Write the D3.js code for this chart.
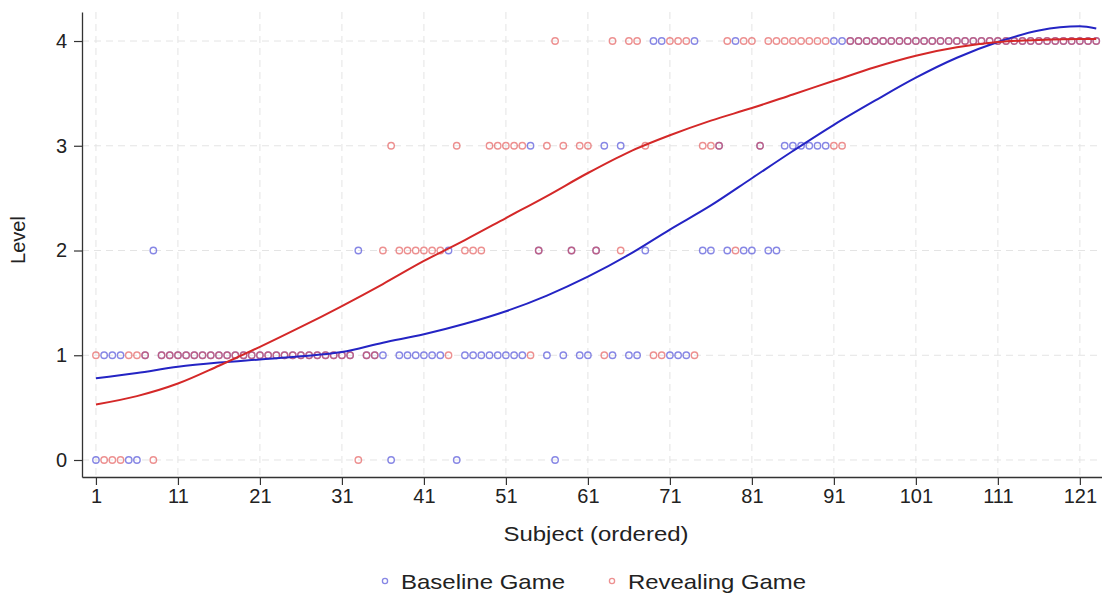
<!DOCTYPE html>
<html>
<head>
<meta charset="utf-8">
<script src="https://cdn.jsdelivr.net/npm/d3@7/dist/d3.min.js"></script>
<style>
  html, body { margin: 0; padding: 0; background: #fff; }
  svg { display: block; font-family: "Liberation Sans", Arial, Helvetica, sans-serif; }
</style>
</head>
<body>
<svg id="chart" width="1102" height="597"></svg>
<script>
// Level chosen by each subject (subjects 1..123, ordered)
const baselineLevel = [
  0,1,1,1,0,0,1,2,                                   // 1-8
  1,1,1,1,1,1,1,1,1,1,1,1,1,1,1,1,1,1,1,1,1,1,1,1,   // 9-32
  2,1,1,1,0,                                         // 33-37
  1,1,1,1,1,1,2,0,                                   // 38-45
  1,1,1,1,1,1,1,1,3,2,1,0,1,2,1,1,2,3,1,3,1,1,2,     // 46-68
  4,4,1,1,1,4,2,2,3,2,4,2,2,3,2,2,                   // 69-84
  3,3,3,3,3,3,4,4,                                   // 85-92
  4,4,4,4,4,4,4,4,4,4,4,4,4,4,4,4,4,4,4,4,4,4,4,4,4,4,4,4,4,4,4 // 93-123
];
const revealingLevel = [
  1,0,0,0,1,1,1,0,                                   // 1-8
  1,1,1,1,1,1,1,1,1,1,1,1,1,1,1,1,1,1,1,1,1,1,1,1,   // 9-32
  0,1,1,2,3,                                         // 33-37
  2,2,2,2,2,2,1,3,                                   // 38-45
  2,2,2,3,3,3,3,3,1,2,3,4,3,2,3,3,2,1,4,2,4,4,3,     // 46-68
  1,1,4,4,4,1,3,3,3,4,2,4,4,3,4,4,                   // 69-84
  4,4,4,4,4,4,3,3,                                   // 85-92
  4,4,4,4,4,4,4,4,4,4,4,4,4,4,4,4,4,4,4,4,4,4,4,4,4,4,4,4,4,4,4 // 93-123
];

// Smoothed fits, read at every fifth subject
const smoothX = [1,6,11,16,21,26,31,36,41,46,51,56,61,66,71,76,81,86,91,96,101,106,111,116,121,123];
const baselineSmooth = [0.78,0.83,0.89,0.93,0.96,0.99,1.03,1.12,1.20,1.30,1.42,1.57,1.75,1.96,2.20,2.43,2.69,2.95,3.20,3.43,3.65,3.84,3.99,4.10,4.14,4.12];
const revealingSmooth = [0.53,0.61,0.73,0.90,1.08,1.27,1.47,1.68,1.90,2.10,2.31,2.52,2.74,2.94,3.10,3.24,3.36,3.49,3.62,3.75,3.86,3.94,3.99,4.01,4.02,4.02];

const xTicks = [1,11,21,31,41,51,61,71,81,91,101,111,121];
const yTicks = [0,1,2,3,4];

const seriesNames = ["Baseline Game", "Revealing Game"];

const svg = d3.select("#chart");
const plotLeft = 82, plotRight = 1102, plotTop = 12, plotBottom = 477;

const x = d3.scaleLinear().domain([-0.7, 123.7]).range([plotLeft, plotRight]);
const y = d3.scaleLinear().domain([-0.1623, 4.277]).range([plotBottom, plotTop]);

const pointBlue = "rgba(70,70,215,0.65)";
const pointRed = "rgba(225,70,70,0.6)";
const lineBlue = "#2424c4";
const lineRed = "#d42828";

// grid
const grid = svg.append("g").attr("stroke", "#e4e4e4").attr("stroke-width", 1)
  .attr("stroke-dasharray", "7,5");
grid.selectAll("line.v").data(xTicks).join("line")
  .attr("x1", d => x(d)).attr("x2", d => x(d)).attr("y1", plotTop).attr("y2", plotBottom);
grid.selectAll("line.h").data(yTicks).join("line")
  .attr("x1", plotLeft).attr("x2", plotRight).attr("y1", d => y(d)).attr("y2", d => y(d));

// points
const subjects = d3.range(1, baselineLevel.length + 1);
const pts = svg.append("g").attr("fill", "none").attr("stroke-width", 1.4);
pts.selectAll("circle.b").data(subjects).join("circle")
  .attr("cx", d => x(d)).attr("cy", d => y(baselineLevel[d - 1])).attr("r", 3.2)
  .attr("stroke", pointBlue);
pts.selectAll("circle.r").data(subjects).join("circle")
  .attr("cx", d => x(d)).attr("cy", d => y(revealingLevel[d - 1])).attr("r", 3.2)
  .attr("stroke", pointRed);

// smoothed lines
const line = d3.line().x(d => x(d[0])).y(d => y(d[1])).curve(d3.curveMonotoneX);
svg.append("path").datum(smoothX.map((s, i) => [s, baselineSmooth[i]]))
  .attr("d", line).attr("fill", "none").attr("stroke", lineBlue).attr("stroke-width", 2);
svg.append("path").datum(smoothX.map((s, i) => [s, revealingSmooth[i]]))
  .attr("d", line).attr("fill", "none").attr("stroke", lineRed).attr("stroke-width", 2);

// axes
const xAxis = svg.append("g").attr("transform", `translate(0,${plotBottom})`)
  .call(d3.axisBottom(x).tickValues(xTicks).tickSize(8).tickPadding(4).tickSizeOuter(0));
const yAxis = svg.append("g").attr("transform", `translate(${plotLeft},0)`)
  .call(d3.axisLeft(y).tickValues(yTicks).tickFormat(d3.format("d"))
    .tickSize(8).tickPadding(7).tickSizeOuter(0));
[xAxis, yAxis].forEach(a => {
  a.select(".domain").attr("stroke", "#333").attr("stroke-width", 1.3);
  a.selectAll(".tick line").attr("stroke", "#333").attr("stroke-width", 1.2);
  a.selectAll(".tick text").attr("fill", "#222").style("font-size", "20px")
    .style("font-family", "'Liberation Sans', Arial, sans-serif");
});

// axis titles
svg.append("text").attr("x", 596).attr("y", 541).attr("text-anchor", "middle")
  .attr("fill", "#222").style("font-size", "21px")
  .attr("textLength", 185).attr("lengthAdjust", "spacingAndGlyphs")
  .text("Subject (ordered)");
svg.append("text").attr("transform", "translate(25,240) rotate(-90)")
  .attr("text-anchor", "middle").attr("fill", "#222").style("font-size", "20px")
  .text("Level");

// legend
const legend = svg.append("g");
const legendItems = [
  { name: seriesNames[0], color: pointBlue, mx: 385, tx: 401, len: 164 },
  { name: seriesNames[1], color: pointRed, mx: 612, tx: 628, len: 178 }
];
legendItems.forEach(it => {
  legend.append("circle").attr("cx", it.mx).attr("cy", 581).attr("r", 2.6)
    .attr("fill", "none").attr("stroke", it.color).attr("stroke-width", 1.3);
  legend.append("text").attr("x", it.tx).attr("y", 589).attr("fill", "#222")
    .style("font-size", "21px").attr("textLength", it.len)
    .attr("lengthAdjust", "spacingAndGlyphs").text(it.name);
});
</script>
</body>
</html>
